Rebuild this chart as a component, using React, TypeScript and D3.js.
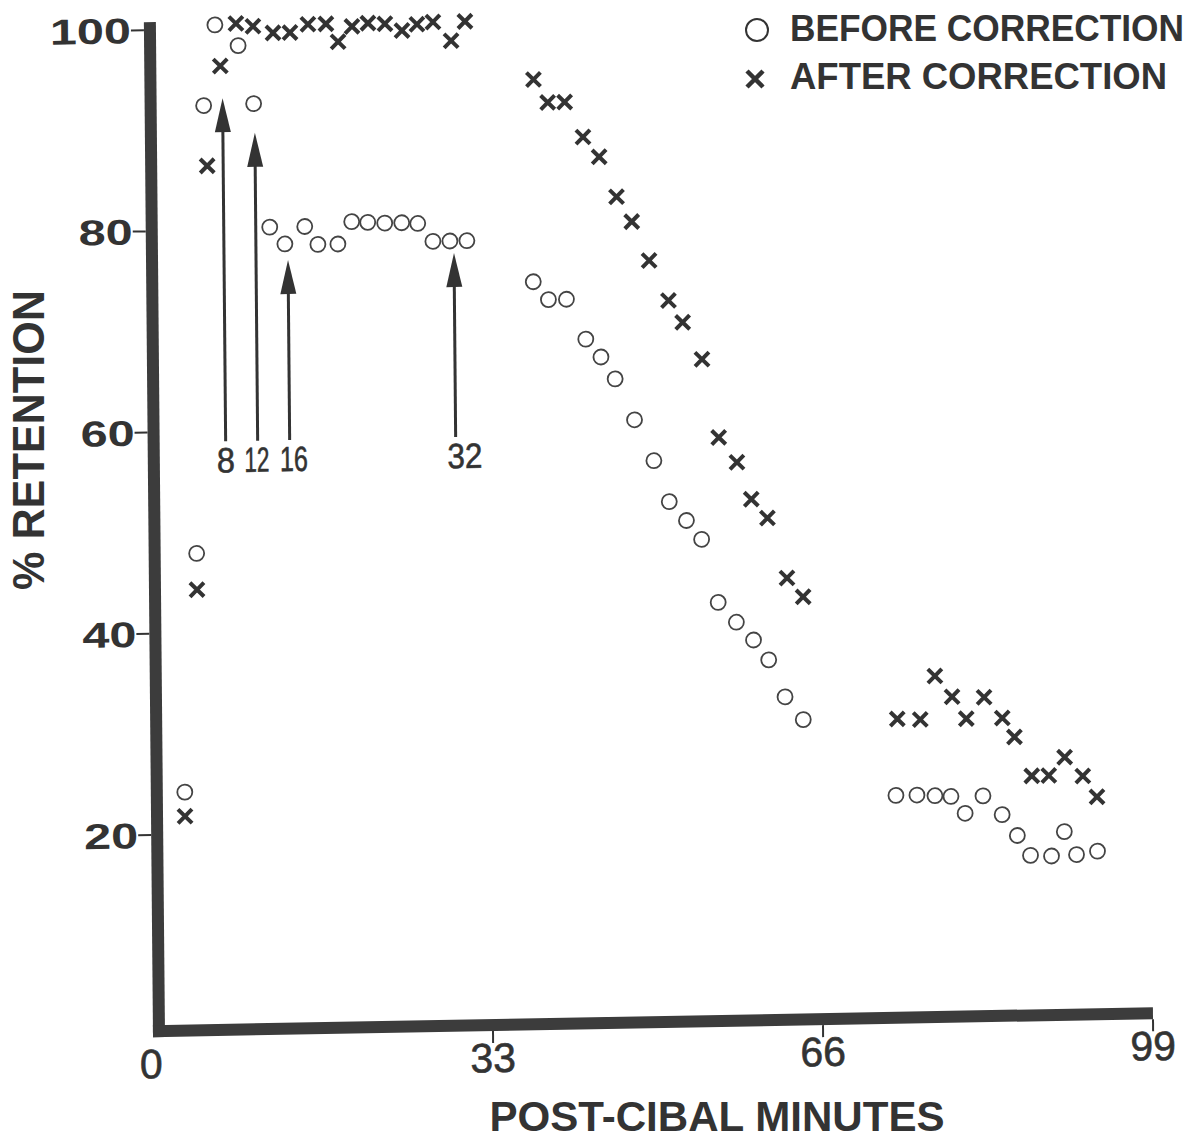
import * as d3 from "d3"

// readings from the figure (minutes after meal, % retention)
const beforeMinutes = [2.4, 3.8, 4.9, 6.1, 8.4, 9.9, 11.4, 12.9, 14.9, 16.2, 18.2, 19.6, 21.2, 22.9, 24.6, 26.2, 27.7, 29.4, 31.1, 37.7, 39.2, 41.0, 42.9, 44.4, 45.8, 47.7, 49.6, 51.1, 52.8, 54.3, 55.9, 57.7, 59.4, 60.9, 62.5, 64.3, 73.5, 75.6, 77.4, 79.0, 80.4, 82.2, 84.1, 85.6, 86.9, 89.0, 90.3, 91.5, 93.6]
const beforeRetention = [24.2, 47.9, 92.4, 100.4, 98.3, 92.5, 80.2, 78.5, 80.2, 78.4, 78.4, 80.6, 80.5, 80.4, 80.4, 80.3, 78.5, 78.5, 78.5, 74.3, 72.5, 72.5, 68.5, 66.7, 64.5, 60.4, 56.3, 52.2, 50.3, 48.4, 42.1, 40.1, 38.3, 36.3, 32.6, 30.3, 22.6, 22.6, 22.5, 22.4, 20.7, 22.4, 20.5, 18.4, 16.4, 16.3, 18.7, 16.4, 16.7]

const afterMinutes = [2.4, 3.8, 5.2, 6.6, 8.2, 9.9, 11.9, 13.6, 15.4, 17.2, 18.4, 19.8, 21.4, 23.1, 24.8, 26.3, 27.9, 29.7, 31.1, 37.9, 39.3, 41.0, 42.8, 44.4, 46.1, 47.6, 49.3, 51.2, 52.6, 54.5, 56.1, 57.9, 59.3, 60.9, 62.8, 64.4, 73.7, 76.0, 77.5, 79.2, 80.6, 82.4, 84.2, 85.4, 87.1, 88.8, 90.4, 92.2, 93.6]
const afterRetention = [21.8, 44.3, 86.4, 96.3, 100.5, 100.2, 99.5, 99.5, 100.3, 100.3, 98.5, 100.0, 100.3, 100.2, 99.5, 100.1, 100.3, 98.4, 100.3, 94.4, 92.1, 92.1, 88.6, 86.6, 82.6, 80.1, 76.2, 72.2, 70.0, 66.3, 58.5, 56.0, 52.3, 50.4, 44.4, 42.5, 30.2, 30.1, 34.4, 32.3, 30.1, 32.2, 30.1, 28.2, 24.3, 24.3, 26.1, 24.2, 22.1]

// the arrows drawn over the early part of the curve
const arrowLabels = ["8", "12", "16", "32"]
const arrowMinutes = [6.8, 10.0, 13.2, 29.8]
const arrowTips = [93.1, 89.6, 76.9, 77.3]
const arrowBase = 59

const xTicks = [0, 33, 66, 99]
const yTicks = [20, 40, 60, 80, 100]

const ink = "#333"
const font = "'Liberation Sans', Arial, sans-serif"

export default function App() {
  const width = 1200
  const height = 1139

  const x = d3.scaleLinear().domain([0, 99]).range([163, 1153])
  const y = d3.scaleLinear().domain([0, 100]).range([1036, 30])

  const ox = x(0)
  const oy = y(0)
  // the scanned original sits slightly skewed on the page
  const skew = `translate(${ox},${oy}) matrix(1,-0.018,0.009,1,0,0) translate(${-ox},${-oy})`

  const axisX = x(0) - 4
  const axisY = y(0) - 5

  const before = beforeMinutes.map((m, i) => ({ m, r: beforeRetention[i] }))
  const after = afterMinutes.map((m, i) => ({ m, r: afterRetention[i] }))

  // label nudges / widths so the hand-lettered numbers sit like the original
  const labelShift = [0, -1, 4, 9]
  const labelWidth = [18, 25, 28, 35]

  return (
    <svg
      width={width}
      height={height}
      style={{ position: "absolute", left: 0, top: 0, background: "#fff" }}
      fontFamily={font}
    >
      <g transform={skew}>
        {/* axes */}
        <line x1={axisX} x2={axisX} y1={y(100.8)} y2={axisY + 6} stroke="#3c3c3c" strokeWidth={12} />
        <line x1={axisX - 6} x2={x(99)} y1={axisY} y2={axisY} stroke="#3c3c3c" strokeWidth={12} />

        {yTicks.map((t) => (
          <g key={t}>
            <line x1={axisX - 19} x2={axisX - 6} y1={y(t)} y2={y(t)} stroke={ink} strokeWidth={2} />
            <text
              x={axisX - 19}
              y={y(t)}
              dy="0.36em"
              textAnchor="end"
              fontSize={36}
              fontWeight="bold"
              fill={ink}
              textLength={String(t).length * 27}
              lengthAdjust="spacingAndGlyphs"
            >
              {t}
            </text>
          </g>
        ))}

        {xTicks.map((t) => (
          <g key={t}>
            {t > 0 && <line x1={x(t)} x2={x(t)} y1={axisY + 6} y2={axisY + 18} stroke={ink} strokeWidth={2} />}
            <text
              x={t === 0 ? x(t) - 12 : x(t)}
              y={oy + 42}
              textAnchor="middle"
              fontSize={41}
              fill={ink}
              stroke={ink}
              strokeWidth={0.6}
            >
              {t}
            </text>
          </g>
        ))}

        {/* arrows */}
        {arrowMinutes.map((m, i) => {
          const ax = x(m)
          const tip = y(arrowTips[i])
          const base = y(arrowBase)
          return (
            <g key={arrowLabels[i]}>
              <line x1={ax} x2={ax} y1={base} y2={tip + 20} stroke={ink} strokeWidth={3} />
              <path d={`M${ax},${tip} L${ax - 8},${tip + 34} L${ax + 8},${tip + 34} Z`} fill={ink} />
              <text
                x={ax + labelShift[i]}
                y={base + 31}
                textAnchor="middle"
                fontSize={35}
                fill={ink}
                stroke={ink}
                strokeWidth={0.6}
                textLength={labelWidth[i]}
                lengthAdjust="spacingAndGlyphs"
              >
                {arrowLabels[i]}
              </text>
            </g>
          )
        })}

        {/* before correction */}
        {before.map((d, i) => (
          <circle key={"b" + i} cx={x(d.m)} cy={y(d.r)} r={7.5} fill="none" stroke="#444" strokeWidth={1.8} />
        ))}

        {/* after correction */}
        {after.map((d, i) => (
          <path
            key={"a" + i}
            transform={`translate(${x(d.m)},${y(d.r)})`}
            d="M-7,-7L7,7M-7,7L7,-7"
            stroke={ink}
            strokeWidth={4}
          />
        ))}
      </g>

      <text
        x={717}
        y={1131}
        textAnchor="middle"
        fontSize={42}
        fontWeight="bold"
        fill={ink}
        textLength={455}
        lengthAdjust="spacingAndGlyphs"
      >
        POST-CIBAL MINUTES
      </text>

      <text
        x={28}
        y={440}
        transform="rotate(-90 28 440)"
        textAnchor="middle"
        dy="0.36em"
        fontSize={44}
        fontWeight="bold"
        fill={ink}
        textLength={300}
        lengthAdjust="spacingAndGlyphs"
      >
        % RETENTION
      </text>

      {/* legend */}
      <circle cx={757} cy={30} r={11} fill="none" stroke={ink} strokeWidth={2} />
      <text x={790} y={41} fontSize={36} fontWeight="bold" fill={ink} textLength={394} lengthAdjust="spacingAndGlyphs">
        BEFORE CORRECTION
      </text>
      <path transform="translate(755,79)" d="M-8,-8L8,8M-8,8L8,-8" stroke={ink} strokeWidth={4.5} />
      <text x={790} y={89} fontSize={36} fontWeight="bold" fill={ink} textLength={377} lengthAdjust="spacingAndGlyphs">
        AFTER CORRECTION
      </text>
    </svg>
  )
}
